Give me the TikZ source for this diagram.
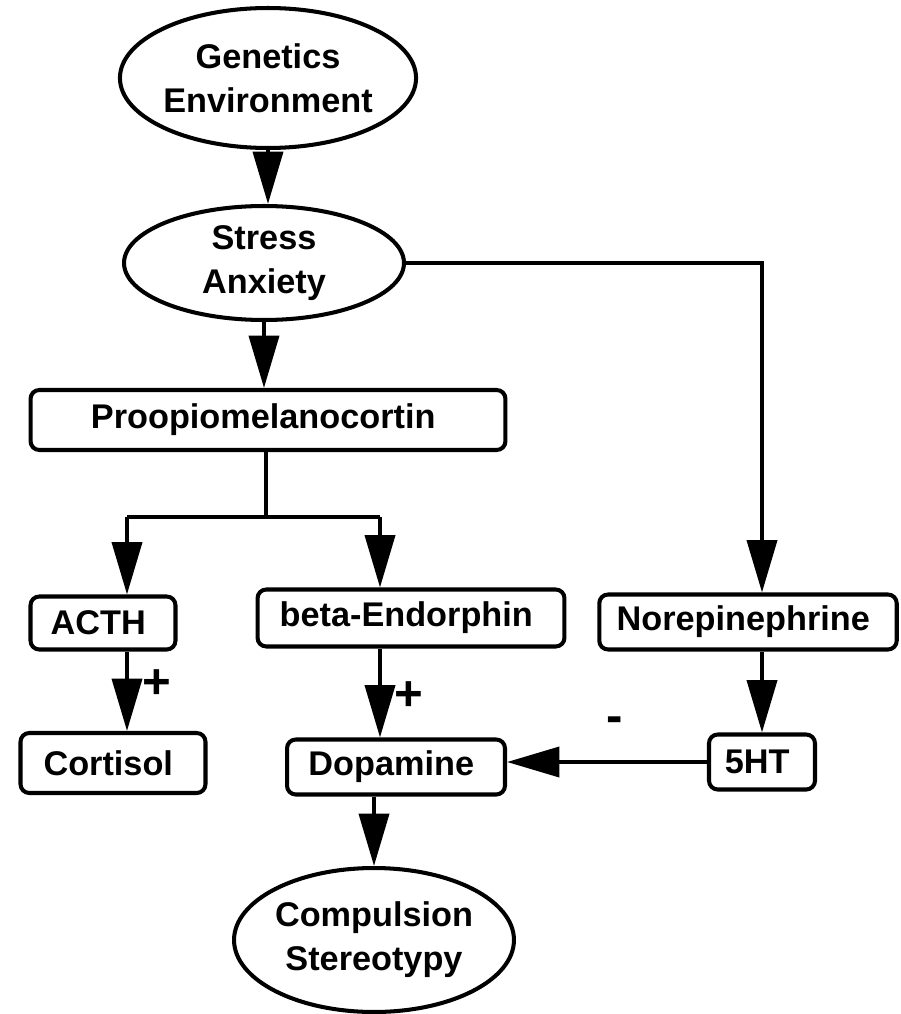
\documentclass[tikz,border=0pt]{standalone}
\usepackage{fontspec}
\setmainfont{Liberation Sans}
\usetikzlibrary{arrows.meta,shapes.geometric}

\begin{document}
\begin{tikzpicture}[x = 0.02cm, y = -0.02cm, line width = 2.3pt, every node/.style={font = \fontsize{19.5}{25}\selectfont\bfseries, align = center, inner sep = 0pt}, oval/.style={draw, ellipse}, block/.style={draw, rounded corners = 5pt}, sign/.style={font = \fontsize{28}{28}\selectfont\bfseries}, arr/.style={-{Triangle[length = 1.05cm, width = 0.6cm]}}]

  \useasboundingbox (0, 0) rectangle (900, 1014);

  \node[oval, minimum width = 5.5cm, minimum height = 2.8cm] (gen) at (268, 78) { Genetics\\Environment };
  \node[oval, minimum width = 5.6cm, minimum height = 2.28cm] (stress) at (264, 263) { Stress\\Anxiety };
  \node[block, minimum width = 9.5cm, minimum height = 1.2cm] (pomc) at (268, 420) { Proopiomelanocortin };

  \node[block, minimum width = 2.9cm, minimum height = 1.06cm] (acth) at (103, 623) { ACTH };
  \node[block, minimum width = 6.14cm, minimum height = 1.14cm] (beta) at (411, 618) { beta-Endorphin };
  \node[block, minimum width = 5.95cm, minimum height = 1.1cm] (nor) at (748, 622) { Norepinephrine };

  \node[block, minimum width = 3.7cm, minimum height = 1.2cm] (cort) at (113, 763) { Cortisol };
  \node[block, minimum width = 4.36cm, minimum height = 1.1cm] (dopa) at (396, 767) { Dopamine };
  \node[block, minimum width = 2.12cm, minimum height = 1.1cm] (ht) at (762, 762) { 5HT };

  \node[oval, minimum width = 4.96cm, minimum height = 2.88cm] (comp) at (374, 940) { Compulsion\\Stereotypy };

  \node[sign] (plusa) at (164, 684) { + };
  \node[sign] (plusb) at (416, 696) { + };
  \node[sign] (minus) at (622, 725) { - };

  \coordinate (split) at (266, 517);
  \coordinate (la) at (127, 517);
  \coordinate (lb) at (380, 517);
  \coordinate (nx) at (762, 263);

  \draw[arr] (gen.south) -- (gen.south |- stress.north);
  \draw[arr] (stress.south) -- (stress.south |- pomc.north);

  \draw (pomc.south -| split) -- (split);
  \draw (la) -- (lb);
  \draw[arr] (la) -- (la |- acth.north);
  \draw[arr] (lb) -- (lb |- beta.north);

  \draw[arr] (stress.east) -- (nx) -- (nx |- nor.north);

  \draw[arr] (la |- acth.south) -- (la |- cort.north);
  \draw[arr] (lb |- beta.south) -- (lb |- dopa.north);
  \draw[arr] (nx |- nor.south) -- (ht.north);
  \draw[arr] (ht.west) -- (ht.west -| dopa.east);

  \draw[arr] (dopa.south -| comp.north) -- (comp.north);

\end{tikzpicture}
\end{document}
